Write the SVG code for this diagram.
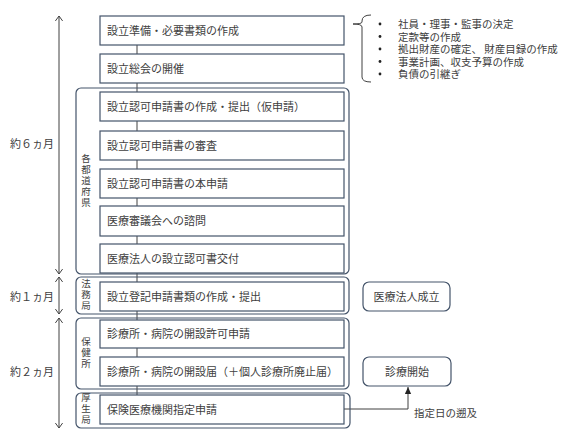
<svg xmlns="http://www.w3.org/2000/svg" width="567" height="439" viewBox="0 0 567 439">
<defs>
<style>
text{font-family:"Noto Sans CJK JP","Noto Sans",sans-serif;fill:#404040;font-size:11px}
.box{fill:#fff;stroke:#44546A;stroke-width:1.2}
.grp{fill:none;stroke:#44546A;stroke-width:1.2}
.ln{stroke:#404040;stroke-width:1;fill:none}
.vl{font-size:9.5px;writing-mode:vertical-rl;letter-spacing:1.5px}
.sm{font-size:10.5px}
</style>
<marker id="chev" viewBox="0 0 10 10" refX="9.5" refY="5" markerWidth="9" markerHeight="9" orient="auto-start-reverse" markerUnits="userSpaceOnUse">
<path d="M4,1 L9.5,5 L4,9" fill="none" stroke="#404040" stroke-width="1.1"/>
</marker>
<marker id="tri" viewBox="0 0 10 10" refX="10" refY="5" markerWidth="7" markerHeight="7" orient="auto" markerUnits="userSpaceOnUse">
<path d="M0,0.5 L10,5 L0,9.5 Z" fill="#222"/>
</marker>
</defs>

<g id="connectors">
<line class="ln" x1="137" y1="45" x2="137" y2="395"/>
<path class="ln" d="M344,409 H408 V387" marker-end="url(#tri)"/>
<line class="ln" x1="59" y1="16" x2="59" y2="274" marker-start="url(#chev)" marker-end="url(#chev)"/>
<line class="ln" x1="59" y1="277" x2="59" y2="314" marker-start="url(#chev)" marker-end="url(#chev)"/>
<line class="ln" x1="59" y1="318" x2="59" y2="428" marker-start="url(#chev)" marker-end="url(#chev)"/>
</g>

<g id="groups">
<g id="g-pref"><rect class="grp" x="76" y="88" width="273" height="186" rx="5"/><text class="vl" x="86" y="154">各都道府県</text></g>
<g id="g-legal"><rect class="grp" x="76" y="277" width="273" height="37" rx="5"/><text class="vl" x="86" y="279">法務局</text></g>
<g id="g-health"><rect class="grp" x="76" y="318" width="273" height="71" rx="5"/><text class="vl" x="86" y="337">保健所</text></g>
<g id="g-welfare"><rect class="grp" x="76" y="393" width="274" height="35" rx="5"/><text class="vl" x="86" y="393">厚生局</text></g>
</g>

<g id="n1"><rect class="box" x="100" y="16" width="244" height="29"/><text x="107" y="34.5">設立準備・必要書類の作成</text></g>
<g id="n2"><rect class="box" x="100" y="54" width="244" height="29"/><text x="107" y="72.5">設立総会の開催</text></g>
<g id="n3"><rect class="box" x="100" y="92" width="244" height="29"/><text x="107" y="110.5">設立認可申請書の作成・提出（仮申請）</text></g>
<g id="n4"><rect class="box" x="100" y="131" width="244" height="29"/><text x="107" y="149.5">設立認可申請書の審査</text></g>
<g id="n5"><rect class="box" x="100" y="169" width="244" height="29"/><text x="107" y="187.5">設立認可申請書の本申請</text></g>
<g id="n6"><rect class="box" x="100" y="206" width="244" height="30"/><text x="107" y="225">医療審議会への諮問</text></g>
<g id="n7"><rect class="box" x="100" y="244" width="244" height="29"/><text x="107" y="262.5">医療法人の設立認可書交付</text></g>
<g id="n8"><rect class="box" x="100" y="282" width="244" height="29"/><text x="107" y="300.5">設立登記申請書類の作成・提出</text></g>
<g id="n9"><rect class="box" x="100" y="320" width="244" height="28"/><text x="107" y="338">診療所・病院の開設許可申請</text></g>
<g id="n10"><rect class="box" x="100" y="357" width="244" height="29"/><text x="107" y="375.5">診療所・病院の開設届（＋個人診療所廃止届）</text></g>
<g id="n11"><rect class="box" x="100" y="395" width="244" height="29"/><text x="107" y="413.5">保険医療機関指定申請</text></g>

<g id="n-est"><rect class="box" x="363" y="282" width="87" height="29" rx="6"/><text x="406.5" y="300.5" text-anchor="middle">医療法人成立</text></g>
<g id="n-start"><rect class="box" x="363" y="357" width="88" height="29" rx="6"/><text x="407" y="375.5" text-anchor="middle">診療開始</text></g>
<text x="414" y="417" class="sm">指定日の遡及</text>

<g id="period-labels">
<text x="10" y="148">約６ヵ月</text>
<text x="10" y="301">約１ヵ月</text>
<text x="10" y="376">約２ヵ月</text>
</g>

<g id="notes">
<path class="ln" d="M371,15 Q362,15 362,21 L362,22 Q362,24 353,24 Q362,24 362,27 L362,77 Q362,82 371,82"/>
<g fill="#222"><circle cx="380" cy="24" r="1.4"/><circle cx="380" cy="36.5" r="1.4"/><circle cx="380" cy="49" r="1.4"/><circle cx="380" cy="61.5" r="1.4"/><circle cx="380" cy="74" r="1.4"/></g>
<text class="sm" x="398" y="28"><tspan x="398" y="28">社員・理事・監事の決定</tspan><tspan x="398" y="40.5">定款等の作成</tspan><tspan x="398" y="53">拠出財産の確定、 財産目録の作成</tspan><tspan x="398" y="65.5">事業計画、収支予算の作成</tspan><tspan x="398" y="78">負債の引継ぎ</tspan></text>
</g>
</svg>
